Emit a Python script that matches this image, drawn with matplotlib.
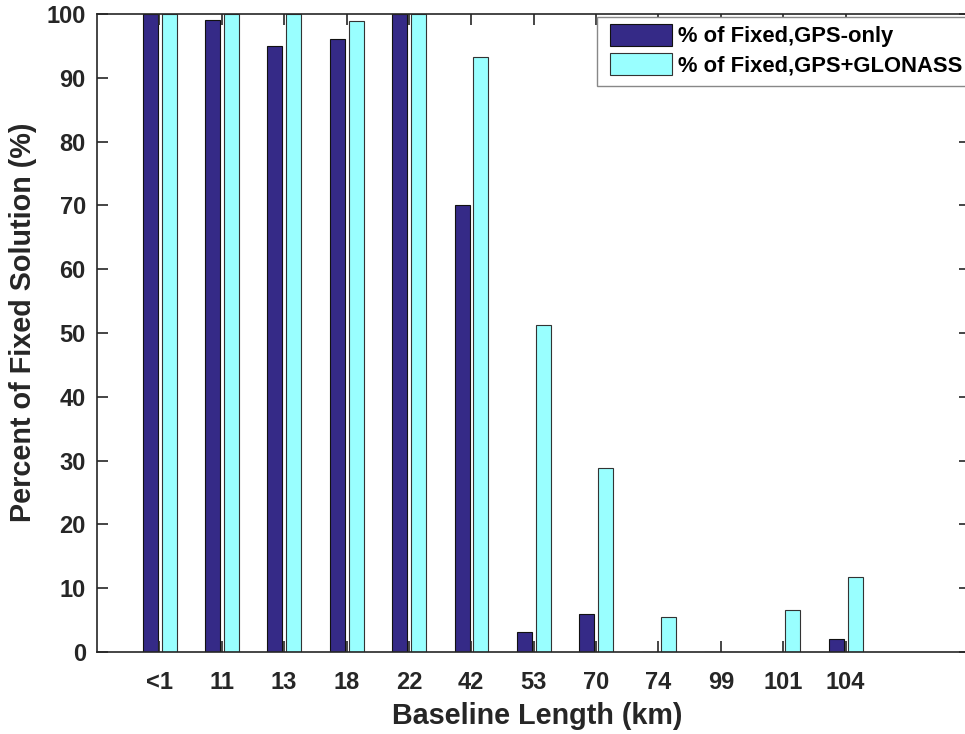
import numpy as np
import matplotlib
matplotlib.use('Agg')
import matplotlib.pyplot as plt
from matplotlib.patches import Rectangle

baselines = ['<1', '11', '13', '18', '22', '42', '53', '70', '74', '99', '101', '104']
gps_only = [100, 99, 95, 96, 100, 70, 3.1, 6.0, 0, 0, 0, 2.0]
gps_glonass = [100, 100, 100, 98.9, 100, 93.2, 51.2, 28.9, 5.5, 0, 6.6, 11.8]

plt.rcParams['font.family'] = ['Liberation Sans', 'DejaVu Sans']
plt.rcParams['font.weight'] = 'bold'
txt = '#262626'

fig = plt.figure(figsize=(9.65, 7.34), dpi=100)
ax = fig.add_axes([0.1005, 0.1117, 0.905, 0.8693])

x = np.arange(len(baselines))
w = 0.24
ax.bar(x - 0.147, gps_only, w, color='#352a87', edgecolor='#111111', linewidth=0.8,
       label='% of Fixed,GPS-only')
ax.bar(x + 0.155, gps_glonass, w, color='#99ffff', edgecolor='#333333', linewidth=0.8,
       label='% of Fixed,GPS+GLONASS')

ax.set_xlim(-1, 13)
ax.set_ylim(0, 100)
ax.set_xticks(x)
ax.set_xticklabels(baselines)
ax.set_yticks(np.arange(0, 101, 10))
ax.tick_params(direction='in', length=8, width=1.2, top=True, right=True,
               labelsize=17, colors=txt, pad=14)
ax.tick_params(axis='y', pad=8)
for s in ax.spines.values():
    s.set_color(txt)
    s.set_linewidth(1.2)

ax.set_xlabel('Baseline Length (km)', fontsize=20.7, fontweight='bold', color=txt)
ax.set_ylabel('Percent of Fixed Solution (%)', fontsize=20.7, fontweight='bold', color=txt)
ax.xaxis.set_label_coords(0.504, -0.078)
ax.yaxis.set_label_coords(-0.0687, 0.517)

# legend box drawn by hand (MATLAB-style padding)
W, H = 965.0, 734.0
ax.add_patch(Rectangle((597 / W, 1 - 86 / H), 380 / W, 69 / H, transform=fig.transFigure,
                       facecolor='white', edgecolor='#888888', linewidth=1.0, zorder=2,
                       clip_on=False))
leg = ax.legend(loc='upper left', bbox_to_anchor=(610 / W, 1 - 24 / H), bbox_transform=fig.transFigure,
                fontsize=15.8, frameon=False,
                handlelength=2.83, handleheight=1.15, handletextpad=0.25, labelspacing=0.25,
                borderpad=0, borderaxespad=0)
for t in leg.get_texts():
    t.set_color('black')

fig.savefig('out.png', dpi=100)
